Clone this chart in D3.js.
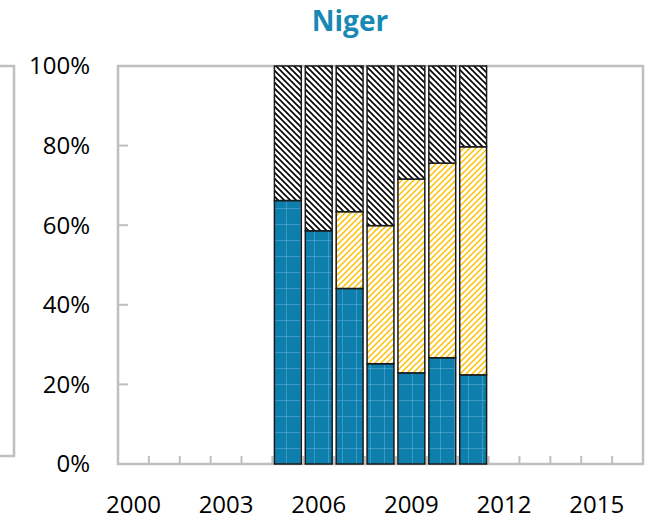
<!DOCTYPE html>
<html lang="en">
<head>
    <meta charset="UTF-8">
    <title>Niger</title>
    <script src="https://cdn.jsdelivr.net/npm/d3@7/dist/d3.min.js"></script>
    <style>
        body { margin: 0; background: #fff; }
        svg text { font-family: "Open Sans", "Noto Sans", sans-serif; fill: #000; }
        .frame { fill: none; stroke: #bfbfbf; stroke-width: 2.5px; }
        .tick-line { stroke: #bfbfbf; stroke-width: 2px; }
        .seg { stroke: #1a1a1a; stroke-width: 1.5px; }
    </style>
</head>
<body>
<svg width="646" height="519"></svg>
<script>
    // data (percent of total)
    var years = d3.range(2000, 2017);
    var barYears = [2005, 2006, 2007, 2008, 2009, 2010, 2011];
    var blueShare = [66.2, 58.6, 44.1, 25.2, 22.9, 26.7, 22.4];
    var goldShare = [0, 0, 19.3, 34.7, 48.7, 48.9, 57.3];
    var yTicks = [0, 20, 40, 60, 80, 100];
    var xLabels = [2000, 2003, 2006, 2009, 2012, 2015];

    var svg = d3.select('svg'),
        plotL = 118, plotR = 643, plotT = 66, plotB = 464;

    var rows = barYears.map(function(y, i) {
        return { year: y, blue: blueShare[i], gold: goldShare[i], rest: 100 - blueShare[i] - goldShare[i] };
    });
    var keys = ['blue', 'gold', 'rest'];
    var stacked = d3.stack().keys(keys)(rows);

    var x = d3.scaleBand().domain(years).range([plotL, plotR])
            .paddingInner(0.13).paddingOuter(0.065),
        y = d3.scaleLinear().domain([0, 100]).range([plotB, plotT]),
        step = x.step();

    // patterns
    var defs = svg.append('defs');
    var pb = defs.append('pattern').attr('id', 'p-blue')
        .attr('patternUnits', 'userSpaceOnUse').attr('width', 14).attr('height', 16);
    pb.append('rect').attr('width', 14).attr('height', 16).attr('fill', '#0e7fad');
    pb.append('path').attr('d', 'M0,0.5H14M6.5,0V16')
        .attr('stroke', '#5fb0d4').attr('stroke-opacity', 0.55).attr('stroke-width', 1);

    var pg = defs.append('pattern').attr('id', 'p-gold')
        .attr('patternUnits', 'userSpaceOnUse').attr('width', 6).attr('height', 6);
    pg.append('rect').attr('width', 6).attr('height', 6).attr('fill', '#fff');
    pg.append('path').attr('d', 'M-1,7L7,-1M-4,4L4,-4M2,10L10,2')
        .attr('stroke', '#ffbf00').attr('stroke-width', 1.5);

    var ph = defs.append('pattern').attr('id', 'p-hatch')
        .attr('patternUnits', 'userSpaceOnUse').attr('width', 6).attr('height', 6);
    ph.append('rect').attr('width', 6).attr('height', 6).attr('fill', '#fff');
    ph.append('path').attr('d', 'M-1,-1L7,7M-4,2L2,8M4,-2L8,2')
        .attr('stroke', '#000').attr('stroke-width', 1.6);

    var fills = { blue: 'url(#p-blue)', gold: 'url(#p-gold)', rest: 'url(#p-hatch)' };

    // left panel edge (neighbour chart)
    svg.append('path').classed('frame', true)
        .attr('d', 'M0,' + plotT + 'H14V456H0');

    // plot frame
    svg.append('rect').classed('frame', true)
        .attr('x', plotL).attr('y', plotT)
        .attr('width', plotR - plotL).attr('height', plotB - plotT);

    // x ticks at band boundaries
    svg.selectAll('.xt').data(years.slice(1)).enter().append('line')
        .classed('tick-line', true)
        .attr('x1', function(d) { return x(d) - step * x.paddingInner() / 2; })
        .attr('x2', function(d) { return x(d) - step * x.paddingInner() / 2; })
        .attr('y1', plotB).attr('y2', plotB - 8);

    // y ticks
    svg.selectAll('.yt').data(yTicks.slice(1, -1)).enter().append('line')
        .classed('tick-line', true)
        .attr('x1', plotL).attr('x2', plotL + 10)
        .attr('y1', function(d) { return y(d); })
        .attr('y2', function(d) { return y(d); });

    // bars
    svg.selectAll('.layer').data(stacked).enter().append('g')
        .attr('fill', function(d) { return fills[d.key]; })
        .selectAll('rect').data(function(d) { return d.filter(function(s) { return s[1] - s[0] > 0; }); })
        .enter().append('rect').classed('seg', true)
        .attr('x', function(d) { return x(d.data.year); })
        .attr('width', x.bandwidth())
        .attr('y', function(d) { return y(d[1]); })
        .attr('height', function(d) { return y(d[0]) - y(d[1]); });

    // labels
    svg.selectAll('.yl').data(yTicks).enter().append('text')
        .attr('x', 90).attr('y', function(d) { return y(d); })
        .attr('dy', '0.35em').attr('text-anchor', 'end')
        .style('font-size', '24px')
        .text(function(d) { return d + '%'; });

    svg.selectAll('.xl').data(xLabels).enter().append('text')
        .attr('x', function(d) { return x(d) + x.bandwidth() / 2; })
        .attr('y', 513).attr('text-anchor', 'middle')
        .style('font-size', '24px')
        .text(function(d) { return d; });

    svg.append('text')
        .attr('x', 350).attr('y', 31).attr('text-anchor', 'middle')
        .style('font-size', '28px').style('font-weight', 'bold')
        .style('fill', '#1789b4')
        .text('Niger');
</script>
</body>
</html>
